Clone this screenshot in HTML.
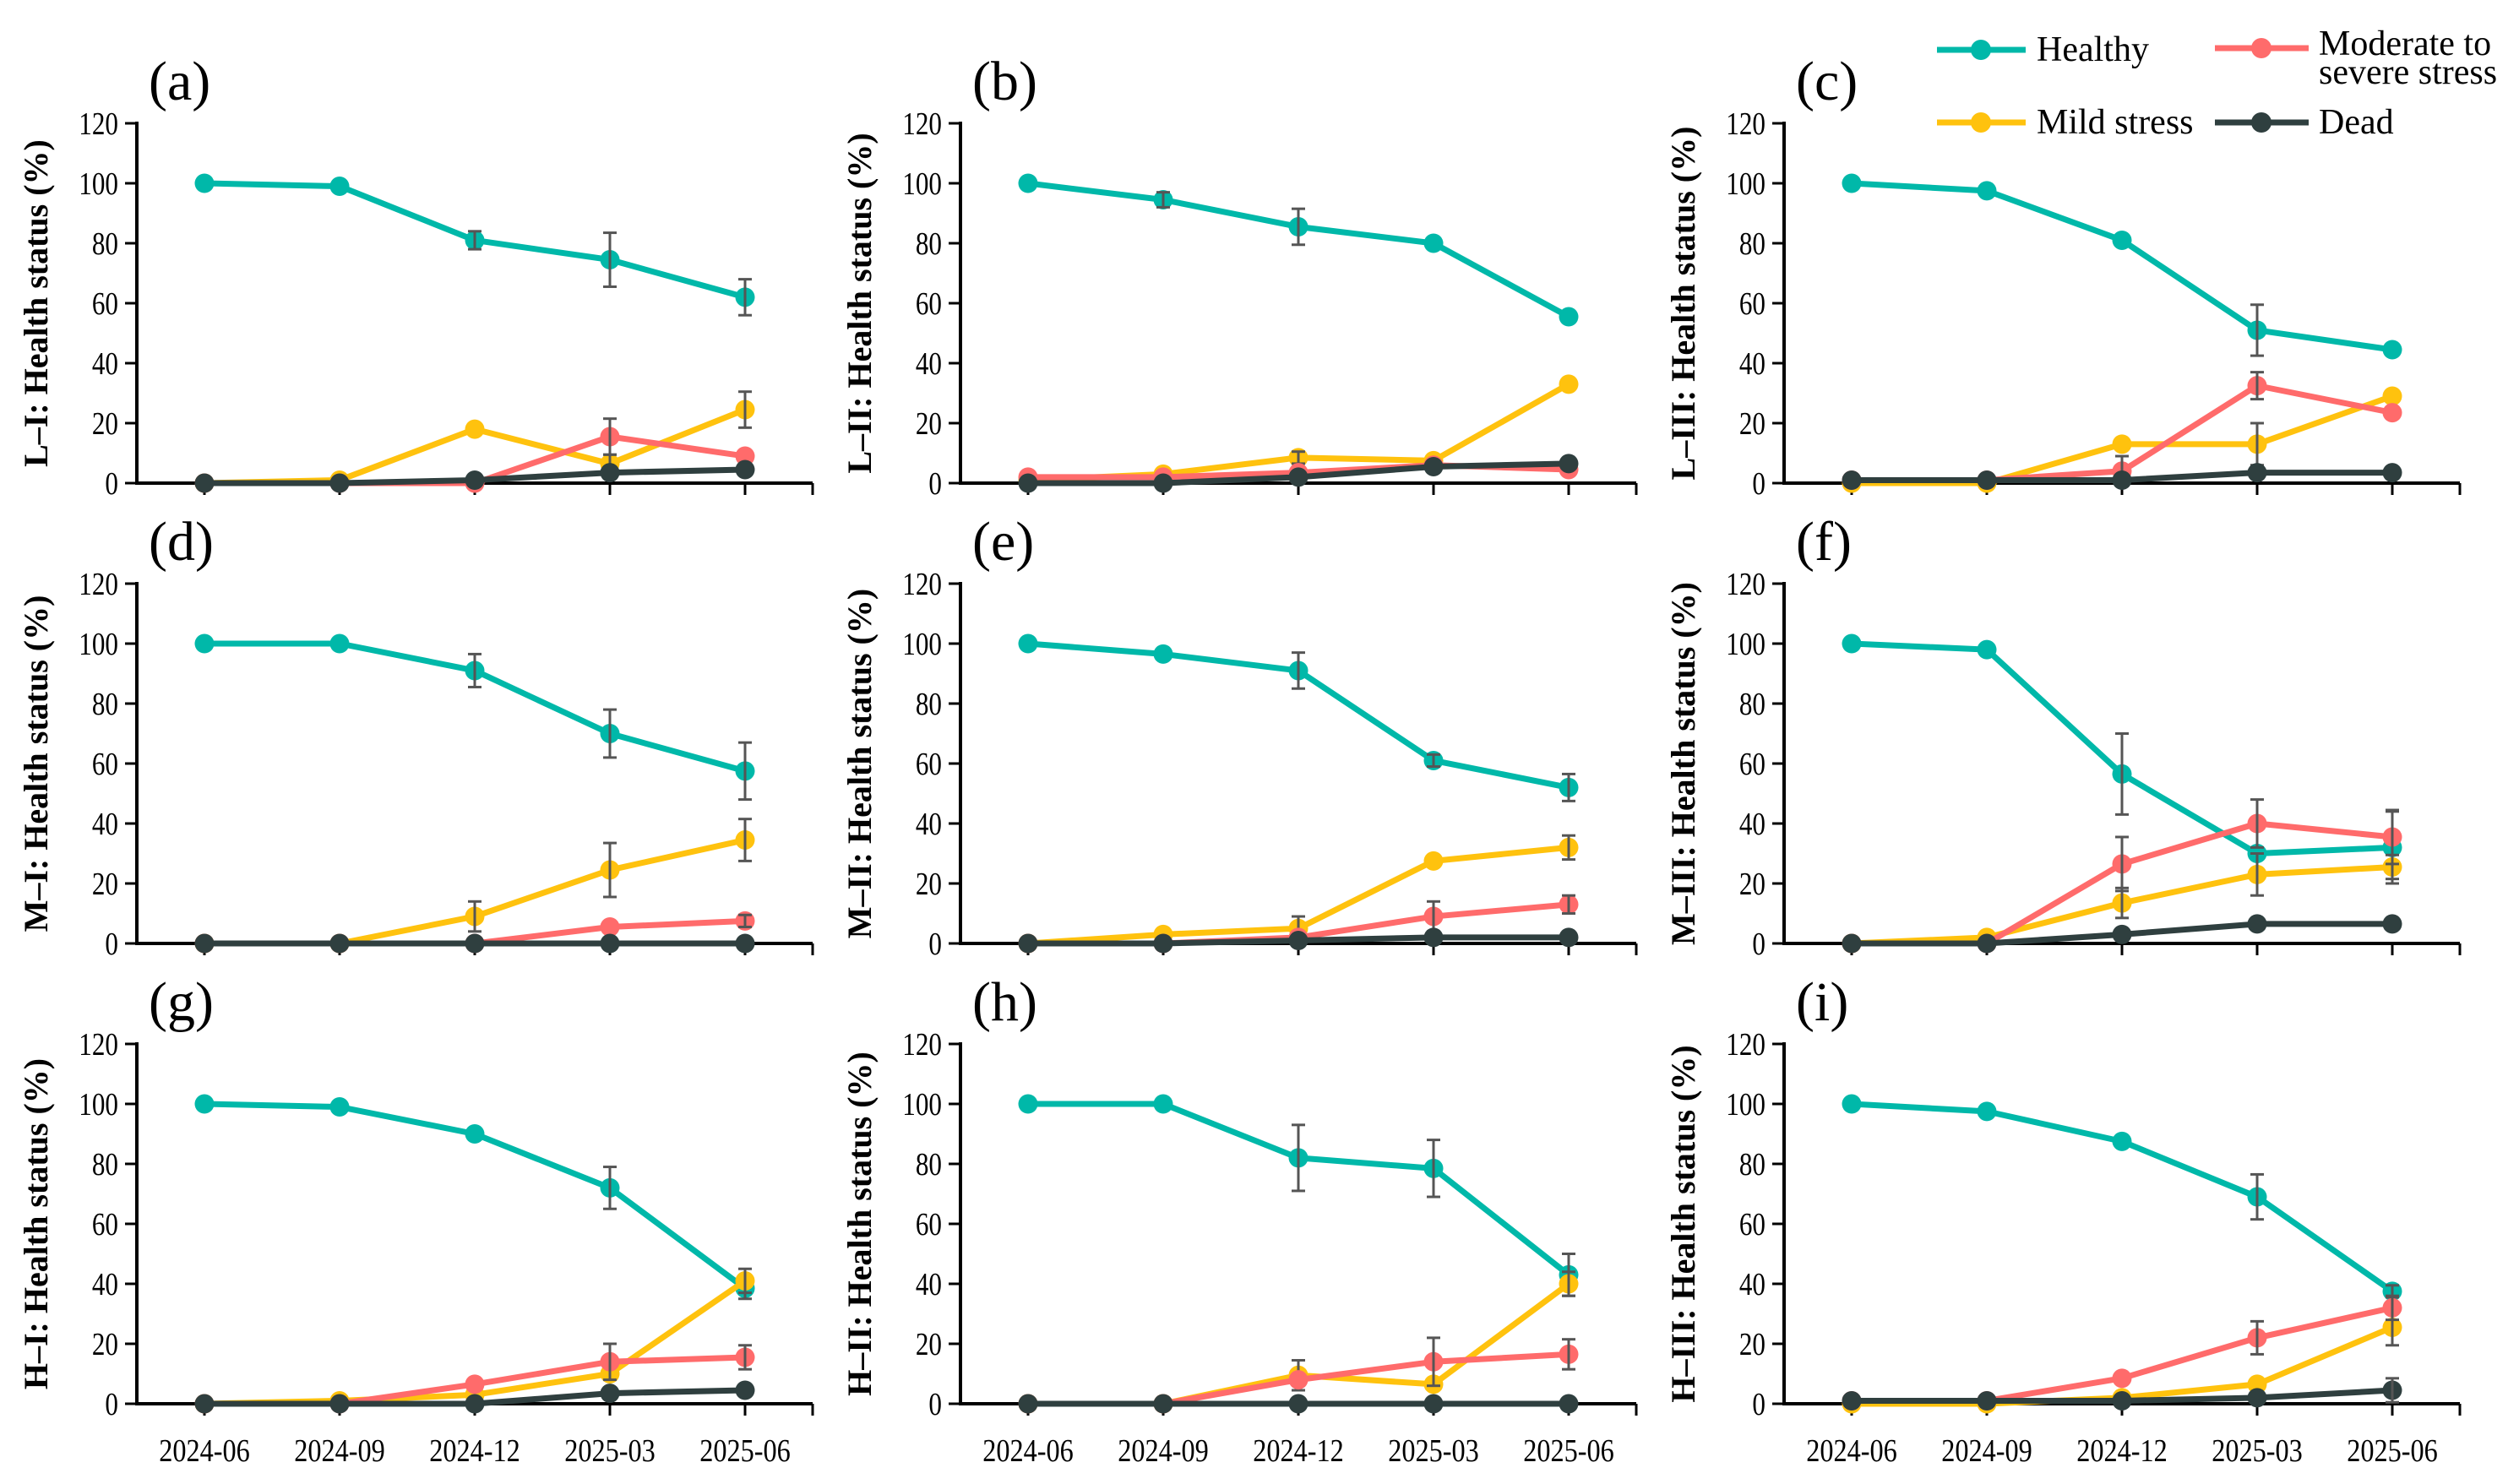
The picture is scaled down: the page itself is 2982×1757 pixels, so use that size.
<!DOCTYPE html>
<html><head><meta charset="utf-8"><style>
html,body{margin:0;padding:0;background:#fff}
svg{display:block}
text{font-family:"Liberation Serif",serif;fill:#000}
</style></head><body>
<svg id="chart" width="2982" height="1757" viewBox="0 0 2982 1757" xmlns="http://www.w3.org/2000/svg" font-family="Liberation Serif, serif">
<g id="legend">
  <g>
    <line x1="2293" y1="59" x2="2398" y2="59" stroke="#00B8A9" stroke-width="7"/>
    <circle cx="2345" cy="59" r="12" fill="#00B8A9"/>
    <text x="2411" y="72" font-size="42" font-family="Liberation Serif, serif">Healthy</text>
  </g>
  <g>
    <line x1="2622" y1="57" x2="2733" y2="57" stroke="#FF6B6B" stroke-width="7"/>
    <circle cx="2677" cy="57" r="12" fill="#FF6B6B"/>
    <text x="2745" y="65" font-size="42" font-family="Liberation Serif, serif">Moderate to</text>
    <text x="2745" y="99" font-size="42" font-family="Liberation Serif, serif">severe stress</text>
  </g>
  <g>
    <line x1="2293" y1="145" x2="2398" y2="145" stroke="#FFC20E" stroke-width="7"/>
    <circle cx="2345" cy="145" r="12" fill="#FFC20E"/>
    <text x="2411" y="158" font-size="42" font-family="Liberation Serif, serif">Mild stress</text>
  </g>
  <g>
    <line x1="2622" y1="145" x2="2733" y2="145" stroke="#2F3F3F" stroke-width="7"/>
    <circle cx="2677" cy="145" r="12" fill="#2F3F3F"/>
    <text x="2745" y="158" font-size="42" font-family="Liberation Serif, serif">Dead</text>
  </g>
</g>
</svg>
<script>
const categories = ["2024-06","2024-09","2024-12","2025-03","2025-06"];
const yTicks = [0,20,40,60,80,100,120];
const panelLetters = ["a","b","c","d","e","f","g","h","i"];
const panelTitles = ["L–I","L–II","L–III","M–I","M–II","M–III","H–I","H–II","H–III"];
const seriesNames = ["Healthy","Mild stress","Moderate to severe stress","Dead"];
const healthy = [[100,99,81,74.5,62],[100,94.5,85.5,80,55.5],[100,97.5,81,51,44.5],[100,100,91,70,57.5],[100,96.5,91,61,52],[100,98,56.5,30,32],[100,99,90,72,38.5],[100,100,82,78.5,43],[100,97.5,87.5,69,37.5]];
const healthyErr = [[0,0,3,9,6],[0,2.5,6,0,0],[0,0,0,8.5,0],[0,0,5.5,8,9.5],[0,0,6,2,4.5],[0,0,13.5,0,12],[0,0,0,7,3.5],[0,0,11,9.5,7],[0,0,0,7.5,2]];
const mild = [[0,1,18,6.5,24.5],[1,3,8.5,7.5,33],[0,0,13,13,29],[0,0,9,24.5,34.5],[0,3,5,27.5,32],[0,2,13.5,23,25.5],[0,1,3,10,41],[0,0,9.5,6.5,40],[0,0,2,6.5,25.5]];
const mildErr = [[0,0,0,3,6],[0,0,2,0,0],[0,0,0,7,0],[0,0,5,9,7],[0,0,4,0,4],[0,0,5,7,4],[0,0,0,0,4],[0,0,5,0,4],[0,0,0,0,6]];
const moderate = [[0,0,0,15.5,9],[2,2,3.5,6,4.5],[1,1,4,32.5,23.5],[0,0,0,5.5,7.5],[0,0,2,9,13],[0,0,26.5,40,35.5],[0,0,6.5,14,15.5],[0,0,8,14,16.5],[1,1,8.5,22,32]];
const moderateErr = [[0,0,0,6,0],[0,0,0,0,0],[0,0,5,4.5,0],[0,0,0,0,2],[0,0,0,5,3],[0,0,9,8,9],[0,0,0,6,4],[0,0,0,8,5],[0,0,0,5.5,4]];
const dead = [[0,0,1,3.5,4.5],[0,0,2,5.5,6.5],[1,1,1,3.5,3.5],[0,0,0,0,0],[0,0,1,2,2],[0,0,3,6.5,6.5],[0,0,0,3.5,4.5],[0,0,0,0,0],[1,1,1,2,4.5]];
const deadErr = [[0,0,0,0,0],[0,0,0,0,0],[0,0,0,0,0],[0,0,0,0,0],[0,0,0,0,0],[0,0,0,0,0],[0,0,0,0,0],[0,0,0,0,0],[0,0,0,0,4]];

const NS="http://www.w3.org/2000/svg";
const svg=document.getElementById("chart");
const FF="Liberation Serif, serif";
const colX=[162,1137,2112], rowY0=[572,1117,1662], spanY=426, axisLen=800;
const colors=["#00B8A9","#FFC20E","#FF6B6B","#2F3F3F"];
const allSeries=[healthy,mild,moderate,dead], allErr=[healthyErr,mildErr,moderateErr,deadErr];
function mk(tag,attrs,parent){const e=document.createElementNS(NS,tag);for(const k in attrs)e.setAttribute(k,attrs[k]);parent.appendChild(e);return e;}
for(let p=0;p<9;p++){
  const c=p%3,r=Math.floor(p/3),ax=colX[c],y0=rowY0[r];
  const xS=i=>ax+80+i*160;
  const yS=v=>y0-v/120*spanY;
  const g=mk("g",{},svg);
  
  
  const lab=mk("text",{x:ax+14,y:y0-454,"font-size":66,"font-family":FF},g);lab.textContent="("+panelLetters[p]+")";
  
  
  const yl=mk("line",{x1:ax,y1:yS(120)-2,x2:ax,y2:y0+2,stroke:"#000","stroke-width":4},g);
  
  
  const xl=mk("line",{x1:ax-2,y1:y0,x2:ax+axisLen,y2:y0,stroke:"#000","stroke-width":4},g);
  
  
  yTicks.forEach(t=>{
    mk("line",{x1:ax-14,y1:yS(t),x2:ax,y2:yS(t),stroke:"#000","stroke-width":3},g);
    const tt=mk("text",{x:0,y:0,"font-size":38,"text-anchor":"end","font-family":FF,transform:"translate("+(ax-22)+","+(yS(t)+13)+") scale(0.82,1)"},g);tt.textContent=t;
    
    
  });
  categories.forEach((cat,i)=>{
    mk("line",{x1:xS(i),y1:y0,x2:xS(i),y2:y0+14,stroke:"#000","stroke-width":3},g);
    if(r===2){const xt=mk("text",{x:0,y:0,"font-size":38,"text-anchor":"middle","font-family":FF,transform:"translate("+xS(i)+","+(y0+68)+") scale(0.85,1)"},g);xt.textContent=cat;
      
      }
  });
  mk("line",{x1:ax+axisLen,y1:y0,x2:ax+axisLen,y2:y0+14,stroke:"#000","stroke-width":3},g);
  const cy=(yS(0)+yS(120))/2, cx=ax-106;
  const yt=mk("text",{x:cx,y:cy,"font-size":40,"font-weight":"bold","text-anchor":"middle","font-family":FF,transform:"rotate(-90 "+cx+" "+cy+")"},g);
  yt.textContent=panelTitles[p]+": Health status (%)";
  
  
  allSeries.forEach((S,s)=>{
    const vals=S[p],errs=allErr[s][p];
    const sg=mk("g",{},g);
    
    
    const pl=mk("polyline",{points:vals.map((v,i)=>xS(i)+","+yS(v)).join(" "),fill:"none",stroke:colors[s],"stroke-width":7,"stroke-linejoin":"round"},sg);
    
    
    vals.forEach((v,i)=>{
      const pt=mk("circle",{cx:xS(i),cy:yS(v),r:11.5,fill:colors[s]},sg);
      
      
      const e=errs[i];
      if(e>0){
        const eg=mk("g",{stroke:"#555","stroke-width":3},sg);
        
        
        mk("line",{x1:xS(i),y1:yS(v-e),x2:xS(i),y2:yS(v+e)},eg);
        mk("line",{x1:xS(i)-8,y1:yS(v-e),x2:xS(i)+8,y2:yS(v-e)},eg);
        mk("line",{x1:xS(i)-8,y1:yS(v+e),x2:xS(i)+8,y2:yS(v+e)},eg);
      }
    });
  });
}
</script>
</body></html>
